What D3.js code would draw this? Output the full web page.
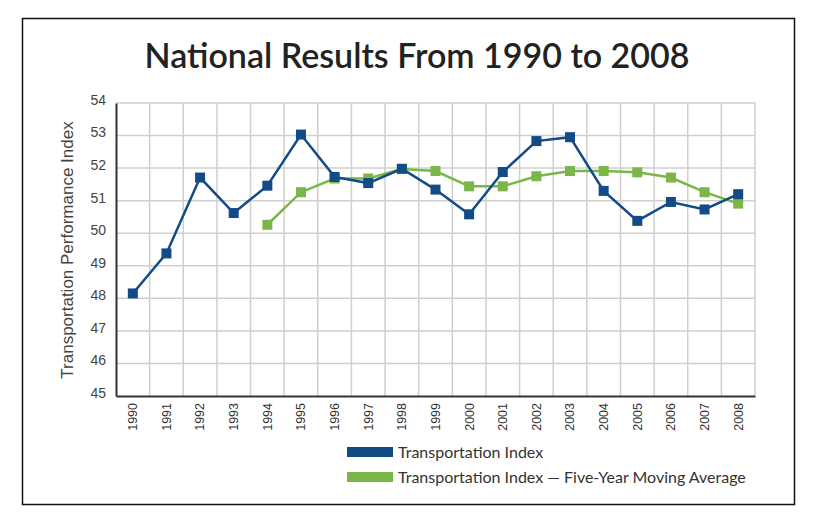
<!DOCTYPE html>
<html><head><meta charset="utf-8">
<script src="https://cdn.jsdelivr.net/npm/d3@7"></script>
<style>body{margin:0;background:#fff}svg{display:block}</style>
</head><body>
<svg id="c" width="829" height="520"></svg>
<script>
const years = ["1990","1991","1992","1993","1994","1995","1996","1997","1998","1999","2000","2001","2002","2003","2004","2005","2006","2007","2008"];
const transportationIndex = [48.15,49.38,51.71,50.62,51.46,53.03,51.73,51.54,51.98,51.34,50.58,51.88,52.83,52.95,51.30,50.38,50.96,50.73,51.20];
const movingAvgYears = ["1994","1995","1996","1997","1998","1999","2000","2001","2002","2003","2004","2005","2006","2007","2008"];
const movingAverage = [50.26,51.26,51.68,51.68,51.97,51.91,51.44,51.44,51.75,51.91,51.91,51.87,51.71,51.26,50.91];
const yTicks = [45,46,47,48,49,50,51,52,53,54];
const title = "National Results From 1990 to 2008";
const yTitle = "Transportation Performance Index";
const legendLabels = ["Transportation Index","Transportation Index \u2014 Five-Year Moving Average"];
const colors = ["#134b86","#7ab648"];

const svg = d3.select("#c");
svg.append("rect").attr("x",22.5).attr("y",18.5).attr("width",772).attr("height",486)
  .attr("fill","#fff").attr("stroke","#111").attr("stroke-width",1.5);

svg.append("text").attr("x",417).attr("y",68).attr("text-anchor","middle")
  .attr("font-family","Lato").attr("font-weight",600).attr("font-size",34).attr("fill","#222").text(title);

const L=116, R=755, T=103, B=396;
const x = d3.scaleBand().domain(years).range([L,R]);
const y = d3.scaleLinear().domain([45,54]).range([B,T]);
const cx = d => x(d)+x.bandwidth()/2;

const g = svg.append("g");
g.append("g").selectAll("line").data(years.slice(1).concat(["end"])).join("line")
  .attr("x1",(d,i)=> i<years.length-1 ? x(d) : R).attr("x2",(d,i)=> i<years.length-1 ? x(d) : R)
  .attr("y1",T).attr("y2",B).attr("stroke","#cfcfcf").attr("stroke-width",1.5);
g.append("g").selectAll("line").data(yTicks.slice(1)).join("line")
  .attr("x1",L).attr("x2",R).attr("y1",d=>y(d)).attr("y2",d=>y(d))
  .attr("stroke","#cfcfcf").attr("stroke-width",1.5);

const ya = svg.append("g").attr("transform",`translate(${L},0)`).call(d3.axisLeft(y).tickValues(yTicks).tickSize(0).tickPadding(10));
ya.select(".domain").attr("stroke","#333").attr("stroke-width",2);
ya.selectAll("text").attr("font-family","Liberation Sans").attr("font-size",14).attr("fill","#444").attr("dy","0.1em");

const xa = svg.append("g").attr("transform",`translate(0,${B})`).call(d3.axisBottom(x).tickSize(0));
xa.select(".domain").attr("stroke","#333").attr("stroke-width",2);
xa.selectAll("text").attr("font-family","Liberation Sans").attr("font-size",12.5).attr("fill","#333")
  .attr("text-anchor","end").attr("transform","rotate(-90)").attr("x",-7).attr("y",0).attr("dy","0.35em");

svg.append("text").attr("transform","translate(73,250) rotate(-90)").attr("text-anchor","middle")
  .attr("font-family","Liberation Sans").attr("font-size",17).attr("fill","#444").text(yTitle);

const line = d3.line().x(d=>cx(d[0])).y(d=>y(d[1]));
const s1 = years.map((d,i)=>[d,transportationIndex[i]]);
const s2 = movingAvgYears.map((d,i)=>[d,movingAverage[i]]);

function drawSeries(data,color){
  svg.append("path").datum(data).attr("d",line).attr("fill","none").attr("stroke",color).attr("stroke-width",2.5);
  svg.append("g").selectAll("rect").data(data).join("rect")
    .attr("x",d=>cx(d[0])-5).attr("y",d=>y(d[1])-5).attr("width",10).attr("height",10).attr("fill",color);
}
drawSeries(s2,colors[1]);
drawSeries(s1,colors[0]);

const lg = svg.append("g");
legendLabels.forEach((t,i)=>{
  const yy = 447 + i*25;
  lg.append("rect").attr("x",347).attr("y",yy).attr("width",46).attr("height",10).attr("fill",colors[i]);
  lg.append("text").attr("x",398).attr("y",yy+10.5).attr("font-family","Lato").attr("font-size",16)
    .attr("fill","#333").text(t);
});
</script>
</body></html>
